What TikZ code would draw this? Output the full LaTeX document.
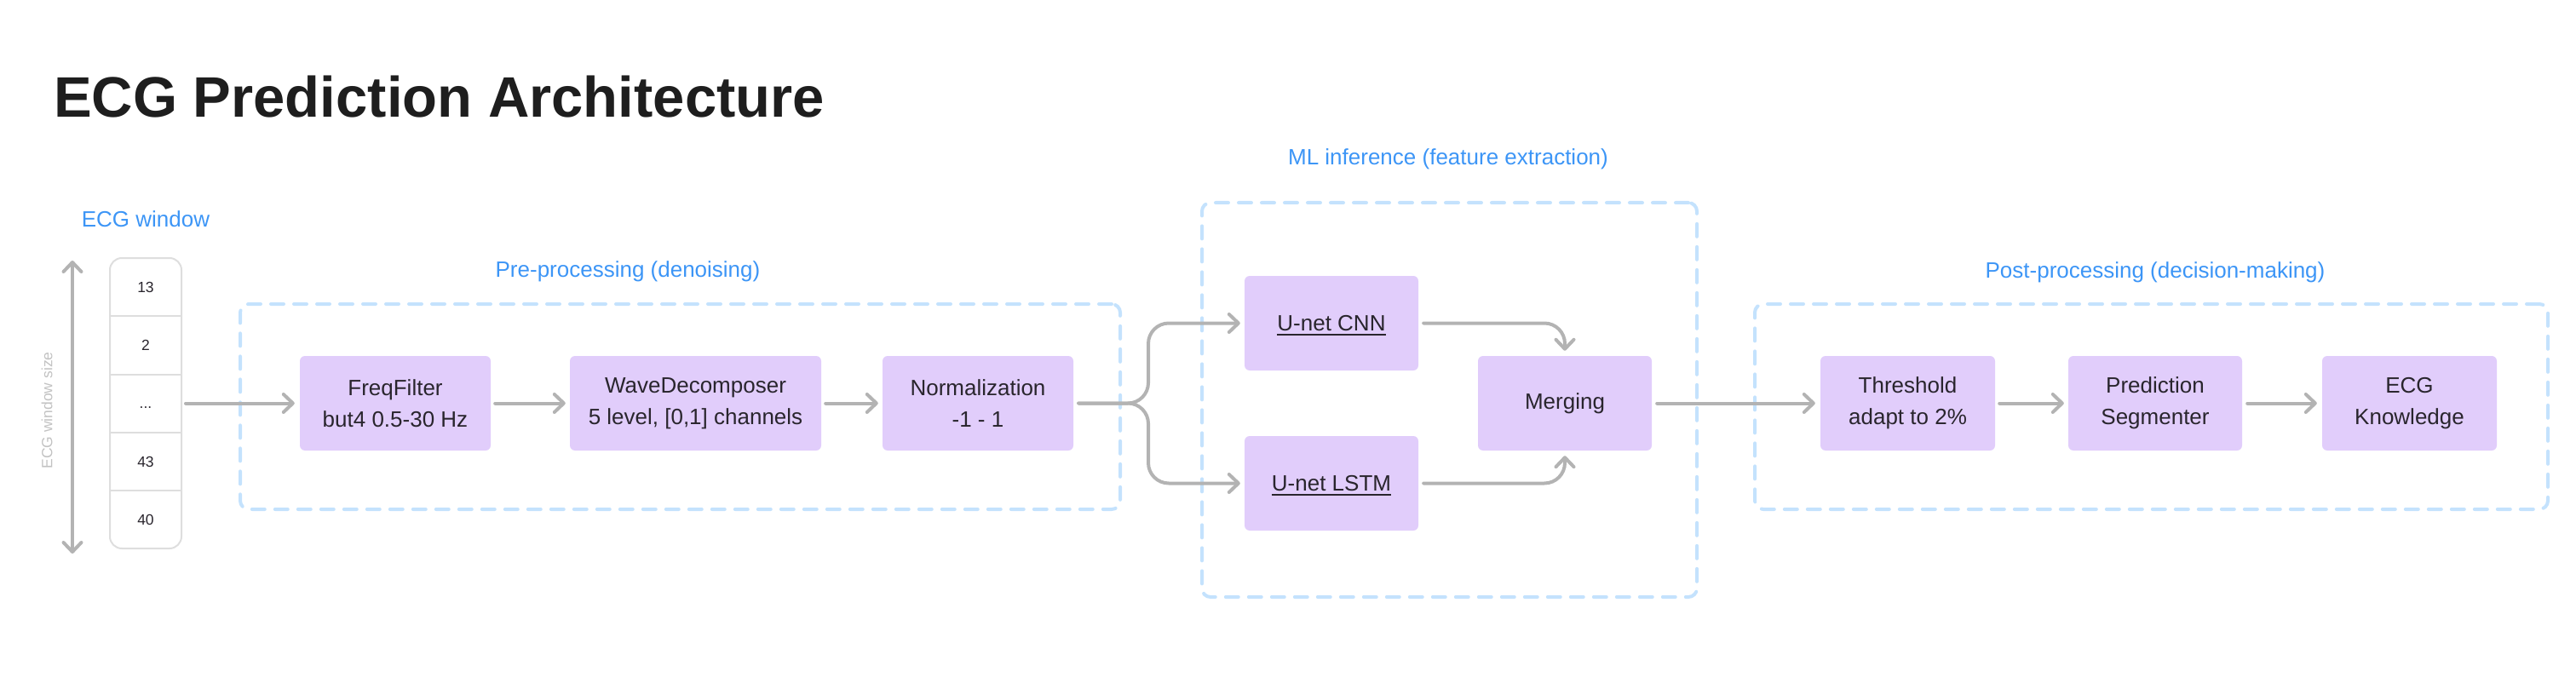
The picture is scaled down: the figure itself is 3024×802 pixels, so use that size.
\documentclass[tikz,border=0pt]{standalone}
\usepackage{fontspec}
\setmainfont{Liberation Sans}
\usetikzlibrary{arrows.meta,calc}
\definecolor{boxfill}{HTML}{E1CDFB}
\definecolor{textdark}{HTML}{29252D}
\definecolor{titlecol}{HTML}{1E1E1E}
\definecolor{labelblue}{HTML}{3C95F6}
\definecolor{dashblue}{HTML}{C4E2FD}
\definecolor{arrowgray}{HTML}{B3B3B3}
\definecolor{cellgray}{HTML}{DEDEDE}
\definecolor{sizegray}{HTML}{C2C2C2}
\newcommand{\myul}[1]{\setbox0\hbox{#1}\rlap{\raisebox{-6pt}[0pt][0pt]{\rule{\wd0}{2pt}}}\box0}
\tikzset{
  stepbox/.style={fill=boxfill, rounded corners=6pt, minimum height=111pt, inner sep=0pt,
    text=textdark, font=\fontsize{26}{37}\selectfont, align=center},
  groupbox/.style={draw=dashblue, line width=4pt, rounded corners=10pt, line cap=round,
    dash pattern=on 15pt off 12pt, inner sep=0pt},
  grouplabel/.style={text=labelblue, font=\fontsize{26}{31}\selectfont, anchor=base, inner sep=0pt},
  arr/.style={draw=arrowgray, line width=4pt, line cap=round,
    -{Straight Barb[length=11pt,width=21pt,round]}},
  cell/.style={minimum width=84pt, minimum height=68.2pt, inner sep=0pt, text=textdark,
    font=\fontsize{17.5}{20}\selectfont, text height=12.6pt, text depth=0pt},
}
\begin{document}
\begin{tikzpicture}[x=1pt,y=-1pt]
\useasboundingbox (0,0) rectangle (3024,802);

% title
\node[anchor=base west, inner sep=0pt, text=titlecol, font=\fontsize{67}{80}\selectfont\bfseries] (title) at (63,138) {ECG Prediction Architecture};

% group frames
\node[groupbox, minimum width=1033pt, minimum height=241pt] (pre) at (798.5,477.5) {};
\node[groupbox, minimum width=581pt, minimum height=463pt] (ml) at (1701.5,469.5) {};
\node[groupbox, minimum width=931pt, minimum height=241pt] (post) at (2525.5,477.5) {};

% group labels
\node[grouplabel] (winlbl) at (171,267) {ECG window};
\node[grouplabel] (prelbl) at (737,325) {Pre-processing (denoising)};
\node[grouplabel] (mllbl) at (1700,194) {ML inference (feature extraction)};
\node[grouplabel] (postlbl) at (2530,326) {Post-processing (decision-making)};

% ECG window column
\node[cell] (c1) at (171,337.1) {13};
\node[cell] (c2) at (171,405.3) {2};
\node[cell] (c3) at (171,473.5) {...};
\node[cell] (c4) at (171,541.7) {43};
\node[cell] (c5) at (171,609.9) {40};
\node[draw=cellgray, line width=2pt, rounded corners=14pt, minimum width=84pt, minimum height=341pt, inner sep=0pt] (win) at (171,473.5) {};
\foreach \c in {c1,c2,c3,c4}{
  \draw[cellgray, line width=2pt] (\c.south west) -- (\c.south east);
}

% window size dimension
\coordinate (dimtop) at (85,306);
\coordinate (dimbot) at (85,650);
\draw[draw=arrowgray, line width=4pt, line cap=round,
  {Straight Barb[length=11pt,width=21pt,round]}-{Straight Barb[length=11pt,width=21pt,round]}] (dimtop) -- (dimbot);
\node[rotate=90, text=sizegray, font=\fontsize{17.5}{20}\selectfont, inner sep=0pt] (sizelbl) at (55,482) {ECG window size};

% processing boxes
\node[stepbox, minimum width=224pt] (freq) at (464,473.5) {FreqFilter\\but4 0.5-30 Hz};
\node[stepbox, minimum width=295pt] (wave) at (816.5,473.5) {WaveDecomposer\\5 level, [0,1] channels};
\node[stepbox, minimum width=224pt] (norm) at (1148,473.5) {Normalization\\-1 - 1};
\node[stepbox, minimum width=204pt] (cnn) at (1563,379.5) {\myul{U-net CNN}};
\node[stepbox, minimum width=204pt] (lstm) at (1563,567.5) {\myul{U-net LSTM}};
\node[stepbox, minimum width=204pt] (merge) at (1837,473.5) {Merging};
\node[stepbox, minimum width=205pt] (thr) at (2239.5,473.5) {Threshold\\adapt to 2\%};
\node[stepbox, minimum width=204pt] (pred) at (2530,473.5) {Prediction\\Segmenter};
\node[stepbox, minimum width=205pt] (know) at (2828.5,473.5) {ECG\\Knowledge};

% connectors
\draw[arr, shorten <=4pt, shorten >=6pt] (win.east) -- (freq.west);
\draw[arr, shorten <=5pt, shorten >=5pt] (freq.east) -- (wave.west);
\draw[arr, shorten <=5pt, shorten >=5pt] (wave.east) -- (norm.west);
\coordinate (fork) at (1348,473.5);
\draw[arr, rounded corners=24pt] ([xshift=6pt]norm.east) -| (fork |- cnn.west) -- ([xshift=-5pt]cnn.west);
\draw[arr, rounded corners=24pt] ([xshift=6pt]norm.east) -| (fork |- lstm.west) -- ([xshift=-5pt]lstm.west);
\draw[arr, rounded corners=24pt] ([xshift=6pt]cnn.east) -| ([yshift=6pt]merge.north);
\draw[arr, rounded corners=24pt] ([xshift=6pt]lstm.east) -| ([yshift=-6pt]merge.south);
\draw[arr, shorten <=6pt, shorten >=6pt] (merge.east) -- (thr.west);
\draw[arr, shorten <=5pt, shorten >=5pt] (thr.east) -- (pred.west);
\draw[arr, shorten <=6pt, shorten >=6pt] (pred.east) -- (know.west);
\end{tikzpicture}
\end{document}
